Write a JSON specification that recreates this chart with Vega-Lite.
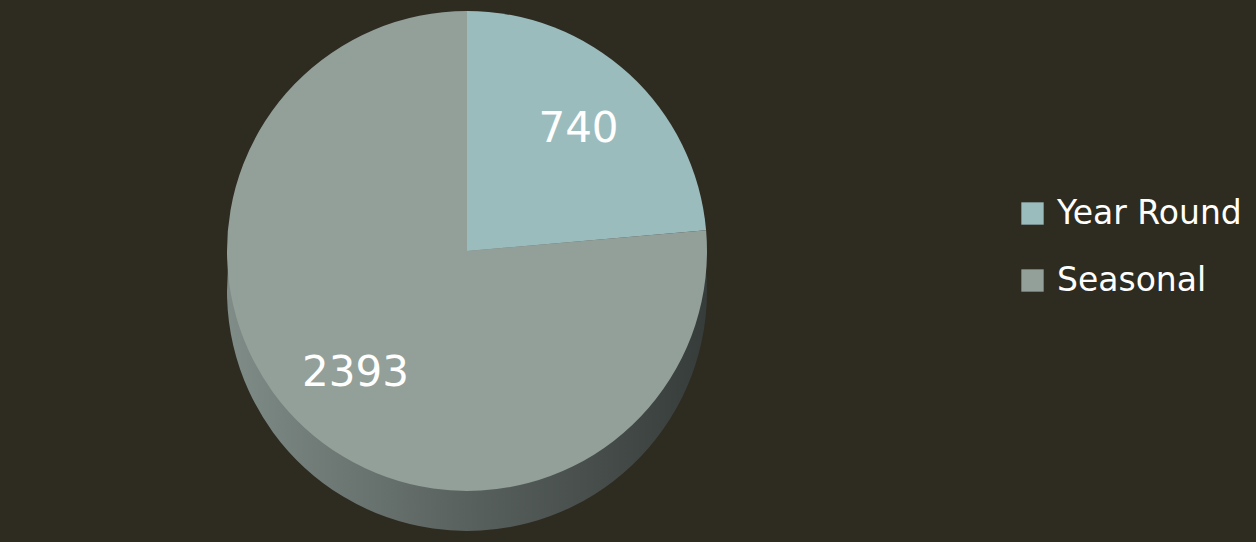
{
  "$schema": "https://vega.github.io/schema/vega-lite/v6.json",
  "autosize": {"type": "fit", "contains": "padding"},
  "width": 1256,
  "height": 542,
  "padding": 0,
  "background": "#2e2b20",
  "config": {"view": {"stroke": null}, "font": "DejaVu Sans"},
  "data": {"values": [
    {"type": "Year Round", "count": 740, "idx": 1},
    {"type": "Seasonal", "count": 2393, "idx": 2}
  ]},
  "encoding": {
    "theta": {"field": "count", "type": "quantitative", "stack": true},
    "order": {"field": "idx", "type": "quantitative"}
  },
  "layer": [
    {
      "mark": {"type": "arc", "outerRadius": 240, "xOffset": -161, "yOffset": 20,
        "fill": {"gradient": "linear", "x1": 0, "x2": 1, "y1": 0, "y2": 0,
          "stops": [{"offset": 0, "color": "#7f8c87"}, {"offset": 0.5, "color": "#59615e"}, {"offset": 1, "color": "#363c3a"}]}},
      "encoding": {}
    },
    {
      "mark": {"type": "arc", "outerRadius": 240, "xOffset": -161, "yOffset": -20},
      "encoding": {
        "color": {"field": "type", "type": "nominal",
          "scale": {"domain": ["Year Round", "Seasonal"], "range": ["#9bbcbd", "#939f99"]},
          "legend": {"title": null, "orient": "none", "legendX": 1016, "legendY": 197,
            "symbolType": "square", "symbolSize": 500, "symbolStrokeWidth": 0,
            "labelFontSize": 33, "labelColor": "#ffffff", "labelFont": "DejaVu Sans",
            "labelLimit": 400, "rowPadding": 33, "symbolOpacity": 1, "labelOffset": 8}}
      }
    },
    {
      "mark": {"type": "text", "radius": 165, "xOffset": -161, "yOffset": -20, "fontSize": 42, "color": "#ffffff", "font": "DejaVu Sans"},
      "encoding": {"text": {"field": "count", "type": "quantitative"}}
    }
  ]
}
